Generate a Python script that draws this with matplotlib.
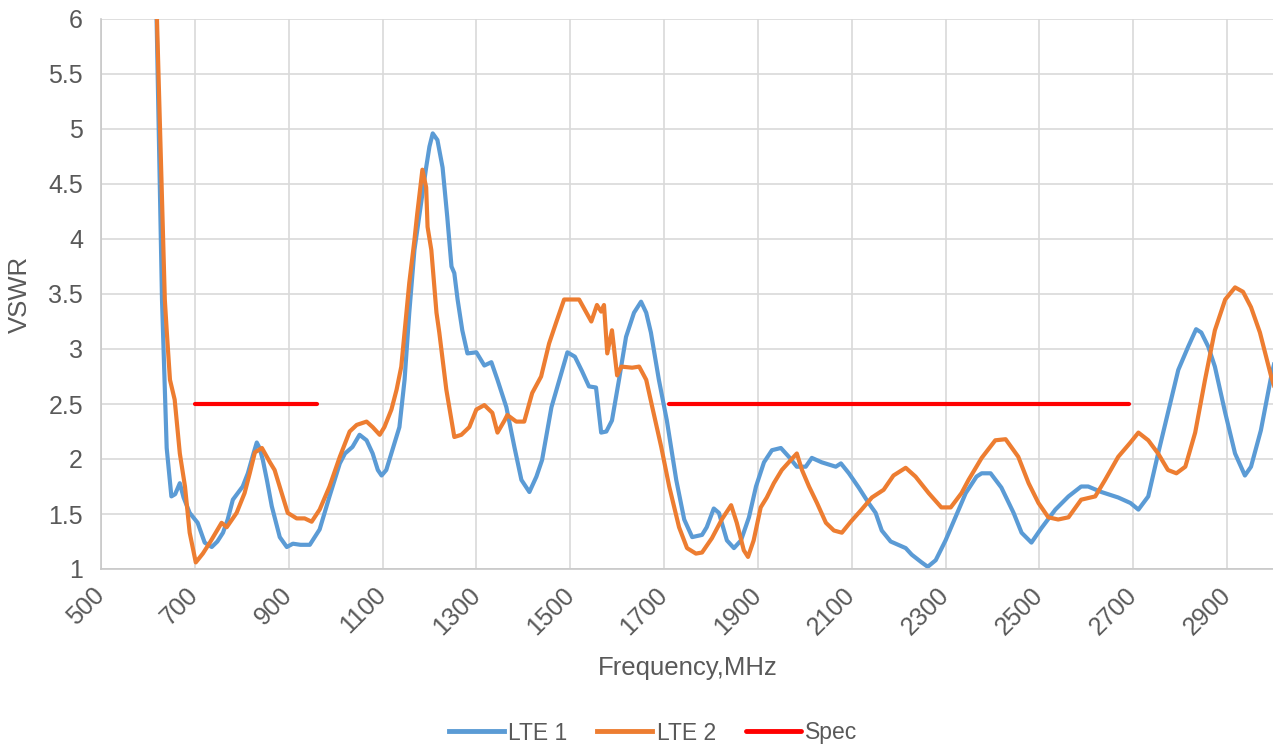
import numpy as np
import matplotlib
matplotlib.use("Agg")
import matplotlib.pyplot as plt

lte1_freq = [614, 630, 640, 650, 658, 668, 676, 689, 706, 721, 736, 748, 760, 770, 781,
             802, 813, 825, 832, 838, 845, 854, 864, 881, 896, 909, 925, 945, 966, 987,
             1009, 1020, 1036, 1051, 1066, 1079, 1090, 1098, 1108, 1121, 1136, 1147, 1157,
             1168, 1179, 1193, 1200, 1207, 1217, 1228, 1238, 1247, 1253, 1260, 1270, 1281,
             1300, 1317, 1332, 1345, 1364, 1381, 1396, 1413, 1428, 1440, 1460, 1477, 1494,
             1510, 1525, 1540, 1555, 1566, 1577, 1589, 1604, 1619, 1636, 1651, 1662, 1672,
             1689, 1706, 1726, 1743, 1760, 1781, 1791, 1806, 1817, 1834, 1849, 1864, 1881,
             1896, 1913, 1930, 1949, 1966, 1983, 2002, 2015, 2036, 2066, 2077, 2094, 2115,
             2136, 2151, 2164, 2183, 2215, 2228, 2249, 2262, 2279, 2300, 2321, 2343, 2366,
             2377, 2396, 2419, 2445, 2462, 2483, 2504, 2534, 2562, 2589, 2604, 2632, 2668,
             2694, 2711, 2732, 2753, 2774, 2796, 2817, 2834, 2845, 2860, 2874, 2896, 2917,
             2938, 2951, 2972, 2994, 3005]
lte1_vswr = [7.0, 3.45, 2.1, 1.66, 1.68, 1.78, 1.65, 1.51, 1.42, 1.24, 1.2, 1.25, 1.33, 1.45, 1.63,
             1.75, 1.87, 2.05, 2.15, 2.1, 1.99, 1.8, 1.57, 1.29, 1.2, 1.23, 1.22, 1.22, 1.36, 1.66,
             1.96, 2.05, 2.11, 2.22, 2.17, 2.05, 1.9, 1.85, 1.9, 2.08, 2.29, 2.72, 3.33,
             3.9, 4.23, 4.65, 4.84, 4.96, 4.9, 4.65, 4.2, 3.75, 3.69, 3.45, 3.17, 2.96,
             2.97, 2.85, 2.88, 2.72, 2.47, 2.11, 1.81, 1.7, 1.84, 1.99, 2.47, 2.72, 2.97,
             2.93, 2.8, 2.66, 2.65, 2.24, 2.25, 2.35, 2.72, 3.11, 3.33, 3.43, 3.33, 3.15,
             2.72, 2.35, 1.81, 1.45, 1.29, 1.31, 1.38, 1.55, 1.51, 1.26, 1.19, 1.26, 1.47,
             1.75, 1.97, 2.08, 2.1, 2.02, 1.93, 1.93, 2.01, 1.97, 1.93, 1.96, 1.87, 1.74,
             1.6, 1.51, 1.35, 1.25, 1.19, 1.13, 1.06, 1.02, 1.08, 1.26, 1.47, 1.69, 1.84,
             1.87, 1.87, 1.74, 1.51, 1.33, 1.24, 1.37, 1.54, 1.66, 1.75, 1.75, 1.7, 1.65,
             1.6, 1.54, 1.66, 2.05, 2.42, 2.81, 3.02, 3.18, 3.15, 3.02, 2.84, 2.42, 2.05,
             1.85, 1.93, 2.26, 2.75, 2.95]

lte2_freq = [614, 636, 640, 647, 657, 668, 679, 689, 702, 717, 732, 757, 768, 789, 806,
             817, 828, 843, 860, 870, 885, 898, 917, 934, 949, 966, 987, 1009, 1030, 1045,
             1066, 1079, 1094, 1104, 1119, 1130, 1140, 1147, 1157, 1168, 1174, 1185, 1193,
             1196, 1204, 1211, 1215, 1221, 1236, 1247, 1253, 1268, 1285, 1300, 1317, 1334,
             1345, 1360, 1366, 1385, 1402, 1419, 1438, 1455, 1470, 1487, 1519, 1545, 1557,
             1566, 1572, 1579, 1589, 1600, 1609, 1632, 1647, 1662, 1675, 1694, 1711, 1732,
             1749, 1768, 1781, 1802, 1823, 1843, 1855, 1870, 1879, 1891, 1906, 1919, 1934,
             1951, 1970, 1983, 1994, 2009, 2026, 2045, 2062, 2079, 2098, 2121, 2143, 2168,
             2189, 2215, 2236, 2264, 2291, 2311, 2334, 2349, 2377, 2406, 2428, 2455, 2477,
             2498, 2519, 2540, 2562, 2589, 2619, 2640, 2668, 2694, 2711, 2732, 2753, 2774,
             2792, 2811, 2832, 2853, 2874, 2896, 2917, 2934, 2951, 2970, 2994, 3005]
lte2_vswr = [6.8, 3.45, 3.17, 2.72, 2.54, 2.05, 1.75, 1.33, 1.06, 1.14, 1.24, 1.42, 1.38, 1.51, 1.69,
             1.87, 2.06, 2.1, 1.97, 1.9, 1.69, 1.51, 1.46, 1.46, 1.43, 1.54, 1.75, 2.02, 2.25, 2.31,
             2.34, 2.29, 2.22, 2.29, 2.45, 2.63, 2.84, 3.15, 3.6, 3.99, 4.23, 4.63, 4.47,
             4.11, 3.9, 3.54, 3.33, 3.15, 2.63, 2.35, 2.2, 2.22, 2.29, 2.45, 2.49, 2.42,
             2.24, 2.35, 2.4, 2.34, 2.34, 2.6, 2.75, 3.05, 3.24, 3.45, 3.45, 3.25, 3.4,
             3.34, 3.4, 2.96, 3.17, 2.76, 2.84, 2.83, 2.84, 2.72, 2.47, 2.11, 1.75, 1.38,
             1.19, 1.14, 1.15, 1.28, 1.45, 1.58, 1.42, 1.17, 1.11, 1.26, 1.56, 1.65, 1.78,
             1.9, 1.99, 2.05, 1.9, 1.75, 1.6, 1.42, 1.35, 1.33, 1.43, 1.54, 1.65, 1.72,
             1.85, 1.92, 1.84, 1.69, 1.56, 1.56, 1.69, 1.81, 2.01, 2.17, 2.18, 2.02, 1.78,
             1.6, 1.47, 1.45, 1.47, 1.63, 1.66, 1.81, 2.02, 2.15, 2.24, 2.17, 2.05, 1.9,
             1.87, 1.93, 2.24, 2.72, 3.17, 3.45, 3.56, 3.52, 3.38, 3.15, 2.75, 2.6]

# spec limit, two bands (gap between them)
spec_freq = [700, 960, np.nan, 1710, 2690]
spec_vswr = [2.5, 2.5, np.nan, 2.5, 2.5]

x_ticks = list(range(500, 3001, 200))
y_ticks = [1, 1.5, 2, 2.5, 3, 3.5, 4, 4.5, 5, 5.5, 6]

plt.rcParams['font.family'] = ['Liberation Sans', 'DejaVu Sans']
text_col = '#595959'
grid_col = '#d9d9d9'

fig = plt.figure(figsize=(12.73, 7.46), dpi=100)
ax = fig.add_axes([101 / 1273, 177 / 746, 1173 / 1273, 550 / 746])

ax.plot(lte1_freq, lte1_vswr, color='#5b9bd5', lw=3, label='LTE 1',
        solid_joinstyle='round')
ax.plot(lte2_freq, lte2_vswr, color='#ed7d31', lw=3, label='LTE 2',
        solid_joinstyle='round')
ax.plot(spec_freq, spec_vswr, color='#ff0000', lw=3, label='Spec',
        solid_capstyle='round')

ax.set_xlim(500, 3000)
ax.set_ylim(1, 6)
ax.set_xticks(x_ticks)
ax.set_yticks(y_ticks)
ax.set_yticklabels([f"{v:g}" for v in y_ticks])
ax.set_xticklabels([str(v) for v in x_ticks], rotation=45, ha='right',
                   va='center', rotation_mode='anchor')

ax.grid(True, color=grid_col, lw=1.2)
ax.set_axisbelow(True)
for side in ['top', 'right']:
    ax.spines[side].set_visible(False)
for side in ['left', 'bottom']:
    ax.spines[side].set_color('#c8c8c8')
    ax.spines[side].set_linewidth(1.2)

ax.tick_params(axis='both', length=0, labelsize=18, labelcolor=text_col)
ax.tick_params(axis='y', pad=13)
ax.tick_params(axis='x', pad=16)

ax.set_xlabel("Frequency,MHz", fontsize=18.5, color=text_col, labelpad=12)
ax.set_ylabel("VSWR", fontsize=18.5, color=text_col, labelpad=12)

leg = fig.legend(loc='center', bbox_to_anchor=(653 / 1273, 1 - 733 / 746), ncol=3,
                 frameon=False, fontsize=16.5, handlelength=2.4, handletextpad=0.2,
                 columnspacing=1.3, labelcolor=text_col)
for line in leg.get_lines():
    line.set_linewidth(3.5)

fig.savefig("out.png", dpi=100)
